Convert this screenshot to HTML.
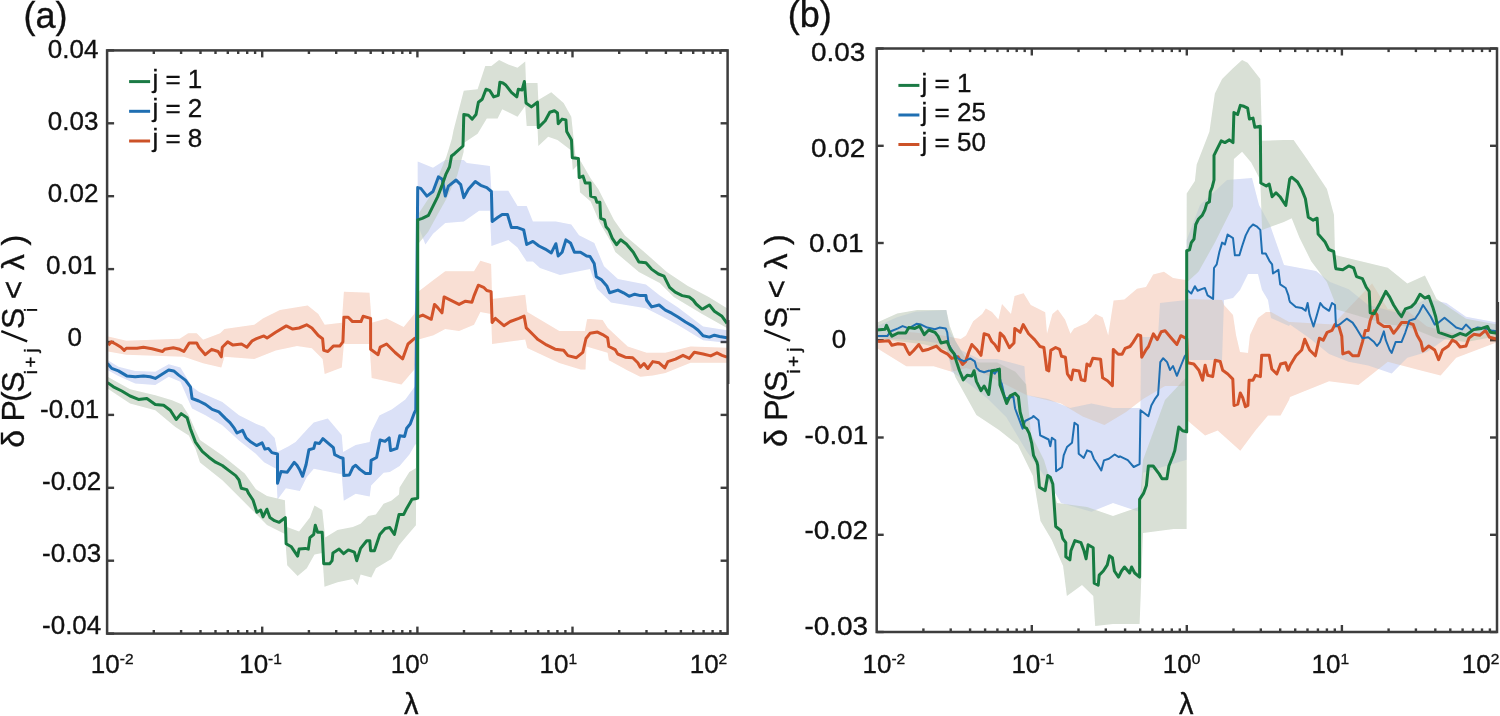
<!DOCTYPE html>
<html><head><meta charset="utf-8"><style>
html,body{margin:0;padding:0;background:#fff;width:1500px;height:716px;overflow:hidden}
svg{display:block}
text{font-family:"Liberation Sans", sans-serif;fill:#111;stroke:#111;stroke-width:0.35px}
</style></head><body>
<svg width="1500" height="716" viewBox="0 0 1500 716">
<clipPath id="ca"><rect x="107.1" y="50.4" width="620.5" height="583.2"/></clipPath><g clip-path="url(#ca)" style="isolation:isolate"><path d="M108.2,336.5 L126.3,340.8 L179.7,338.7 L188.2,333.3 L196.7,333.3 L203.1,339.7 L220.2,333.3 L224.5,329.1 L254.3,324.8 L262.9,318.4 L280.0,309.9 L307.7,305.6 L318.3,314.1 L324.7,324.8 L341.8,322.7 L343.9,291.7 L369.5,292.8 L371.7,322.7 L386.6,318.4 L403.7,326.9 L414.3,314.1 L418.5,291.6 L433.5,279.9 L445.2,271.3 L474.0,271.3 L480.4,260.7 L491.1,263.9 L492.1,299.1 L525.2,294.8 L527.3,311.9 L559.3,331.1 L584.9,331.1 L587.1,319.3 L590.0,318.9 L602.6,320.1 L607.6,327.7 L627.7,346.5 L646.6,352.8 L665.4,352.8 L690.6,346.5 L727.0,347.8 L727.0,362.8 L690.6,362.8 L665.4,372.9 L652.8,375.4 L640.3,376.7 L627.7,370.4 L608.9,360.3 L607.6,352.8 L586.5,346.5 L585.5,369.5 L580.7,369.5 L559.3,363.1 L527.3,348.1 L525.2,339.6 L492.1,343.9 L491.1,314.0 L480.4,311.9 L474.0,324.7 L459.1,331.1 L445.2,328.9 L433.5,335.3 L418.5,339.6 L414.3,369.6 L401.5,384.5 L382.3,380.3 L371.7,378.1 L369.5,344.0 L343.9,344.0 L341.8,367.5 L324.7,373.9 L322.6,358.9 L311.9,348.3 L297.0,346.1 L275.7,350.4 L254.3,358.9 L224.5,356.8 L221.3,367.5 L203.1,363.2 L183.9,356.8 L126.3,354.7 L108.2,351.5 Z" fill="#fceee8" stroke="none" style="mix-blend-mode:darken"/><path d="M107.5,360.0 L118.4,366.7 L135.2,370.9 L155.3,371.7 L168.7,364.2 L180.4,367.5 L192.1,386.8 L198.8,391.8 L222.3,401.9 L239.0,415.3 L255.8,423.7 L264.1,427.0 L274.7,437.9 L277.5,451.9 L288.7,446.3 L295.6,442.1 L308.2,428.2 L313.8,422.6 L327.8,418.4 L341.7,435.1 L343.1,451.9 L355.7,444.9 L369.7,442.1 L371.1,432.3 L379.4,415.6 L390.6,410.0 L391.7,409.4 L405.4,399.6 L415.2,385.9 L417.4,385.0 L417.7,161.5 L433.0,167.7 L445.3,160.0 L463.8,160.0 L466.8,163.1 L489.9,166.1 L491.4,190.7 L508.3,190.7 L517.5,206.1 L526.7,206.1 L532.9,221.4 L555.9,221.4 L571.3,224.5 L579.0,235.3 L594.3,243.0 L604.0,266.3 L617.9,278.9 L645.9,284.5 L659.8,295.6 L678.0,307.5 L703.1,326.4 L727.0,330.2 L727.0,342.7 L703.1,340.2 L678.0,325.1 L659.8,315.2 L645.9,308.2 L611.0,302.6 L597.0,288.7 L590.0,269.1 L560.0,275.0 L540.0,268.0 L532.9,261.4 L526.7,261.4 L517.5,247.6 L508.3,239.9 L491.4,246.0 L489.9,210.7 L479.1,210.7 L463.8,221.4 L445.3,223.0 L433.0,233.7 L425.4,244.5 L417.7,224.5 L417.4,444.0 L415.2,444.6 L409.4,454.4 L399.6,466.0 L389.8,472.0 L383.6,472.8 L371.1,485.4 L369.7,496.6 L355.7,493.8 L343.8,500.8 L341.7,474.2 L327.8,471.5 L313.8,468.7 L306.8,477.0 L299.8,491.0 L285.9,488.2 L277.5,499.4 L276.1,468.7 L264.1,462.2 L255.8,453.8 L239.0,440.4 L222.3,425.3 L205.5,415.3 L192.1,408.6 L180.4,381.8 L168.7,376.8 L155.3,385.1 L135.2,383.5 L118.4,375.9 L107.5,370.0 Z" fill="#eceffb" stroke="none" style="mix-blend-mode:darken"/><path d="M107.5,376.8 L130.1,389.3 L155.3,395.2 L172.0,400.2 L182.0,404.4 L188.8,415.3 L195.5,430.4 L200.0,440.0 L222.4,455.6 L244.7,473.5 L255.9,489.2 L267.0,495.9 L284.9,500.3 L286.0,525.0 L286.8,526.9 L299.1,531.5 L309.9,517.6 L314.5,505.4 L322.2,510.0 L325.2,537.6 L337.5,529.9 L352.9,526.9 L360.6,523.8 L368.2,516.1 L375.9,514.6 L383.6,503.8 L391.3,500.8 L399.0,494.6 L399.6,487.6 L409.4,472.0 L416.2,468.0 L417.4,468.0 L417.7,215.0 L428.2,199.0 L437.2,179.0 L446.3,157.0 L451.8,139.0 L453.6,130.0 L463.8,90.7 L477.6,89.2 L485.3,66.1 L491.4,66.1 L499.1,60.0 L508.3,64.6 L517.5,67.7 L525.2,61.5 L526.0,83.0 L537.5,83.0 L538.3,99.9 L551.3,92.3 L563.6,103.0 L571.3,116.8 L575.4,155.4 L580.0,160.0 L590.7,178.4 L598.4,189.2 L606.1,204.5 L614.0,220.0 L624.9,235.6 L643.1,251.0 L666.8,271.9 L687.8,285.9 L708.7,297.0 L727.0,308.2 L727.0,328.0 L701.7,313.8 L673.8,297.0 L659.8,283.1 L638.9,271.9 L615.3,252.0 L610.7,241.4 L599.9,223.0 L590.7,201.4 L580.0,192.2 L578.4,164.6 L572.8,170.0 L571.3,150.6 L557.5,139.9 L548.2,136.8 L538.3,146.0 L537.5,126.0 L526.7,126.0 L525.2,106.1 L517.5,116.8 L502.2,109.2 L497.6,118.4 L486.8,118.4 L477.6,133.7 L463.8,143.0 L463.6,152.0 L457.2,175.4 L446.3,199.0 L437.2,215.3 L428.2,231.7 L417.7,244.4 L415.9,525.3 L406.7,536.1 L399.0,545.3 L391.3,559.1 L375.9,568.3 L371.3,577.6 L360.6,574.5 L357.5,585.2 L352.9,579.1 L337.5,582.2 L324.5,586.8 L322.2,553.0 L314.5,554.5 L306.8,568.3 L297.6,576.0 L287.2,565.2 L284.9,533.9 L267.0,525.0 L255.9,513.8 L240.2,498.1 L222.4,480.2 L200.0,462.4 L195.5,448.8 L188.8,435.4 L175.4,427.0 L155.3,410.3 L130.1,403.6 L107.5,388.5 Z" fill="#ebefea" stroke="none" style="mix-blend-mode:darken"/></g>
<clipPath id="cb"><rect x="876.7" y="48.5" width="620.3" height="583.5"/></clipPath><g clip-path="url(#cb)" style="isolation:isolate"><path d="M876.7,335.4 L906.3,331.8 L942.6,335.4 L960.8,339.0 L966.0,335.6 L973.2,321.2 L982.2,314.0 L985.8,308.6 L992.0,312.0 L998.4,319.4 L1002.0,304.1 L1011.0,314.0 L1014.6,296.0 L1023.6,293.3 L1030.8,305.0 L1045.2,312.2 L1047.0,333.8 L1052.4,314.0 L1057.8,309.5 L1065.0,319.4 L1070.4,333.8 L1074.0,328.4 L1086.6,323.0 L1095.6,314.0 L1102.8,317.6 L1108.2,335.6 L1113.6,300.5 L1124.4,299.6 L1137.0,288.8 L1146.0,287.0 L1153.2,274.4 L1164.0,271.7 L1173.0,278.0 L1183.8,279.8 L1186.5,279.8 L1186.7,299.0 L1222.0,300.0 L1224.0,305.0 L1233.0,315.0 L1236.0,335.0 L1240.0,352.0 L1248.0,353.0 L1250.0,335.0 L1258.0,318.0 L1266.0,312.0 L1271.0,312.0 L1289.0,322.0 L1290.0,322.0 L1333.0,324.5 L1372.1,283.5 L1387.8,308.9 L1407.3,310.8 L1426.9,326.5 L1456.2,334.3 L1497.3,332.3 L1497.3,342.1 L1456.2,357.8 L1440.6,375.4 L1417.1,369.5 L1387.8,361.7 L1358.4,385.1 L1329.1,381.2 L1290.0,396.9 L1289.0,400.0 L1280.6,415.5 L1268.0,415.5 L1255.4,430.6 L1240.3,450.7 L1217.7,430.6 L1205.1,435.6 L1187.5,420.6 L1186.7,400.0 L1186.6,386.0 L1165.0,386.0 L1143.0,399.0 L1126.0,412.0 L1104.4,425.0 L1082.8,416.5 L1061.0,403.5 L1026.5,395.0 L1000.6,382.0 L983.0,373.0 L966.0,368.0 L951.7,371.7 L933.6,366.3 L906.3,366.3 L876.7,348.1 Z" fill="#fceee8" stroke="none" style="mix-blend-mode:darken"/><path d="M876.7,326.3 L897.2,317.2 L915.4,311.8 L946.3,310.0 L949.9,331.8 L960.8,349.9 L979.0,359.0 L997.1,359.0 L1024.4,366.3 L1026.5,395.0 L1048.0,399.0 L1070.0,408.0 L1091.4,403.5 L1113.0,408.0 L1139.0,408.0 L1140.5,408.0 L1141.0,337.0 L1158.0,337.0 L1160.0,303.0 L1186.6,300.0 L1186.7,240.0 L1200.0,205.0 L1227.0,180.0 L1252.0,178.0 L1259.0,205.0 L1270.0,225.0 L1284.0,265.0 L1316.0,271.0 L1330.0,282.0 L1348.7,289.3 L1368.2,305.0 L1397.5,312.8 L1426.9,299.1 L1446.4,303.0 L1466.0,316.7 L1497.3,322.6 L1497.3,332.3 L1446.4,338.2 L1426.9,351.9 L1407.3,357.8 L1391.7,373.4 L1368.2,365.6 L1348.7,361.7 L1329.1,353.9 L1309.6,338.2 L1290.0,324.5 L1289.0,326.0 L1271.0,318.0 L1268.0,300.0 L1262.0,290.0 L1258.0,274.0 L1248.0,274.0 L1240.0,290.0 L1233.0,298.0 L1224.0,300.0 L1222.0,360.0 L1186.7,360.0 L1186.6,459.8 L1143.0,472.8 L1140.5,511.7 L1139.0,511.7 L1113.0,503.0 L1091.4,511.7 L1061.0,503.0 L1048.0,481.0 L1026.5,451.0 L1006.2,417.1 L988.0,399.0 L969.9,384.4 L951.7,371.7 L946.3,344.5 L924.5,340.9 L897.2,339.0 L876.7,339.0 Z" fill="#eceffb" stroke="none" style="mix-blend-mode:darken"/><path d="M876.7,322.7 L897.2,313.6 L917.2,310.0 L946.3,310.0 L949.9,326.3 L955.4,340.9 L966.3,359.0 L979.0,362.6 L997.1,362.6 L1015.3,371.7 L1026.2,384.4 L1031.0,434.0 L1044.0,460.0 L1057.0,503.0 L1087.0,507.0 L1113.0,516.0 L1139.0,507.0 L1139.6,507.0 L1143.0,460.0 L1165.0,400.0 L1186.6,377.0 L1186.7,193.6 L1194.9,180.9 L1196.7,164.4 L1209.4,131.7 L1214.9,93.6 L1222.1,79.0 L1233.0,68.2 L1242.1,60.0 L1247.6,62.7 L1260.3,79.0 L1262.1,140.8 L1283.9,140.0 L1293.6,140.0 L1307.3,159.6 L1326.9,188.9 L1334.0,215.0 L1335.0,255.0 L1387.8,267.8 L1407.3,283.5 L1424.9,275.6 L1436.6,299.1 L1466.0,318.7 L1497.3,324.5 L1497.3,336.3 L1466.0,342.1 L1436.6,338.2 L1407.3,326.5 L1387.8,324.5 L1368.2,318.7 L1335.0,308.9 L1334.0,300.0 L1326.9,282.0 L1311.2,261.2 L1299.5,237.8 L1291.7,218.2 L1283.9,222.1 L1262.1,229.9 L1260.3,180.0 L1251.2,162.6 L1242.1,151.7 L1233.9,159.0 L1233.0,206.3 L1214.9,242.6 L1198.5,271.7 L1186.7,282.6 L1186.7,487.5 L1186.6,529.0 L1173.6,529.0 L1143.0,533.0 L1139.6,624.0 L1139.0,624.0 L1113.0,624.0 L1095.2,626.0 L1093.3,596.0 L1082.0,585.0 L1066.9,596.0 L1063.1,566.0 L1051.8,540.0 L1040.5,521.0 L1033.0,476.0 L1017.9,445.0 L999.0,430.0 L976.4,415.0 L957.5,381.0 L955.4,377.2 L946.3,350.0 L924.5,344.5 L897.2,340.9 L876.7,337.2 Z" fill="#ebefea" stroke="none" style="mix-blend-mode:darken"/></g>
<line x1="153.8" y1="633.6" x2="153.8" y2="630.0" stroke="#3d3d3d" stroke-width="2.4"/>
<line x1="153.8" y1="50.4" x2="153.8" y2="54.0" stroke="#3d3d3d" stroke-width="2.4"/>
<line x1="181.1" y1="633.6" x2="181.1" y2="630.0" stroke="#3d3d3d" stroke-width="2.4"/>
<line x1="181.1" y1="50.4" x2="181.1" y2="54.0" stroke="#3d3d3d" stroke-width="2.4"/>
<line x1="200.5" y1="633.6" x2="200.5" y2="630.0" stroke="#3d3d3d" stroke-width="2.4"/>
<line x1="200.5" y1="50.4" x2="200.5" y2="54.0" stroke="#3d3d3d" stroke-width="2.4"/>
<line x1="215.5" y1="633.6" x2="215.5" y2="630.0" stroke="#3d3d3d" stroke-width="2.4"/>
<line x1="215.5" y1="50.4" x2="215.5" y2="54.0" stroke="#3d3d3d" stroke-width="2.4"/>
<line x1="227.8" y1="633.6" x2="227.8" y2="630.0" stroke="#3d3d3d" stroke-width="2.4"/>
<line x1="227.8" y1="50.4" x2="227.8" y2="54.0" stroke="#3d3d3d" stroke-width="2.4"/>
<line x1="238.2" y1="633.6" x2="238.2" y2="630.0" stroke="#3d3d3d" stroke-width="2.4"/>
<line x1="238.2" y1="50.4" x2="238.2" y2="54.0" stroke="#3d3d3d" stroke-width="2.4"/>
<line x1="247.2" y1="633.6" x2="247.2" y2="630.0" stroke="#3d3d3d" stroke-width="2.4"/>
<line x1="247.2" y1="50.4" x2="247.2" y2="54.0" stroke="#3d3d3d" stroke-width="2.4"/>
<line x1="255.1" y1="633.6" x2="255.1" y2="630.0" stroke="#3d3d3d" stroke-width="2.4"/>
<line x1="255.1" y1="50.4" x2="255.1" y2="54.0" stroke="#3d3d3d" stroke-width="2.4"/>
<line x1="262.2" y1="633.6" x2="262.2" y2="626.6" stroke="#3d3d3d" stroke-width="2.4"/>
<line x1="262.2" y1="50.4" x2="262.2" y2="57.4" stroke="#3d3d3d" stroke-width="2.4"/>
<line x1="308.9" y1="633.6" x2="308.9" y2="630.0" stroke="#3d3d3d" stroke-width="2.4"/>
<line x1="308.9" y1="50.4" x2="308.9" y2="54.0" stroke="#3d3d3d" stroke-width="2.4"/>
<line x1="336.2" y1="633.6" x2="336.2" y2="630.0" stroke="#3d3d3d" stroke-width="2.4"/>
<line x1="336.2" y1="50.4" x2="336.2" y2="54.0" stroke="#3d3d3d" stroke-width="2.4"/>
<line x1="355.6" y1="633.6" x2="355.6" y2="630.0" stroke="#3d3d3d" stroke-width="2.4"/>
<line x1="355.6" y1="50.4" x2="355.6" y2="54.0" stroke="#3d3d3d" stroke-width="2.4"/>
<line x1="370.7" y1="633.6" x2="370.7" y2="630.0" stroke="#3d3d3d" stroke-width="2.4"/>
<line x1="370.7" y1="50.4" x2="370.7" y2="54.0" stroke="#3d3d3d" stroke-width="2.4"/>
<line x1="382.9" y1="633.6" x2="382.9" y2="630.0" stroke="#3d3d3d" stroke-width="2.4"/>
<line x1="382.9" y1="50.4" x2="382.9" y2="54.0" stroke="#3d3d3d" stroke-width="2.4"/>
<line x1="393.3" y1="633.6" x2="393.3" y2="630.0" stroke="#3d3d3d" stroke-width="2.4"/>
<line x1="393.3" y1="50.4" x2="393.3" y2="54.0" stroke="#3d3d3d" stroke-width="2.4"/>
<line x1="402.3" y1="633.6" x2="402.3" y2="630.0" stroke="#3d3d3d" stroke-width="2.4"/>
<line x1="402.3" y1="50.4" x2="402.3" y2="54.0" stroke="#3d3d3d" stroke-width="2.4"/>
<line x1="410.3" y1="633.6" x2="410.3" y2="630.0" stroke="#3d3d3d" stroke-width="2.4"/>
<line x1="410.3" y1="50.4" x2="410.3" y2="54.0" stroke="#3d3d3d" stroke-width="2.4"/>
<line x1="417.4" y1="633.6" x2="417.4" y2="626.6" stroke="#3d3d3d" stroke-width="2.4"/>
<line x1="417.4" y1="50.4" x2="417.4" y2="57.4" stroke="#3d3d3d" stroke-width="2.4"/>
<line x1="464.0" y1="633.6" x2="464.0" y2="630.0" stroke="#3d3d3d" stroke-width="2.4"/>
<line x1="464.0" y1="50.4" x2="464.0" y2="54.0" stroke="#3d3d3d" stroke-width="2.4"/>
<line x1="491.4" y1="633.6" x2="491.4" y2="630.0" stroke="#3d3d3d" stroke-width="2.4"/>
<line x1="491.4" y1="50.4" x2="491.4" y2="54.0" stroke="#3d3d3d" stroke-width="2.4"/>
<line x1="510.7" y1="633.6" x2="510.7" y2="630.0" stroke="#3d3d3d" stroke-width="2.4"/>
<line x1="510.7" y1="50.4" x2="510.7" y2="54.0" stroke="#3d3d3d" stroke-width="2.4"/>
<line x1="525.8" y1="633.6" x2="525.8" y2="630.0" stroke="#3d3d3d" stroke-width="2.4"/>
<line x1="525.8" y1="50.4" x2="525.8" y2="54.0" stroke="#3d3d3d" stroke-width="2.4"/>
<line x1="538.1" y1="633.6" x2="538.1" y2="630.0" stroke="#3d3d3d" stroke-width="2.4"/>
<line x1="538.1" y1="50.4" x2="538.1" y2="54.0" stroke="#3d3d3d" stroke-width="2.4"/>
<line x1="548.4" y1="633.6" x2="548.4" y2="630.0" stroke="#3d3d3d" stroke-width="2.4"/>
<line x1="548.4" y1="50.4" x2="548.4" y2="54.0" stroke="#3d3d3d" stroke-width="2.4"/>
<line x1="557.4" y1="633.6" x2="557.4" y2="630.0" stroke="#3d3d3d" stroke-width="2.4"/>
<line x1="557.4" y1="50.4" x2="557.4" y2="54.0" stroke="#3d3d3d" stroke-width="2.4"/>
<line x1="565.4" y1="633.6" x2="565.4" y2="630.0" stroke="#3d3d3d" stroke-width="2.4"/>
<line x1="565.4" y1="50.4" x2="565.4" y2="54.0" stroke="#3d3d3d" stroke-width="2.4"/>
<line x1="572.5" y1="633.6" x2="572.5" y2="626.6" stroke="#3d3d3d" stroke-width="2.4"/>
<line x1="572.5" y1="50.4" x2="572.5" y2="57.4" stroke="#3d3d3d" stroke-width="2.4"/>
<line x1="619.2" y1="633.6" x2="619.2" y2="630.0" stroke="#3d3d3d" stroke-width="2.4"/>
<line x1="619.2" y1="50.4" x2="619.2" y2="54.0" stroke="#3d3d3d" stroke-width="2.4"/>
<line x1="646.5" y1="633.6" x2="646.5" y2="630.0" stroke="#3d3d3d" stroke-width="2.4"/>
<line x1="646.5" y1="50.4" x2="646.5" y2="54.0" stroke="#3d3d3d" stroke-width="2.4"/>
<line x1="665.9" y1="633.6" x2="665.9" y2="630.0" stroke="#3d3d3d" stroke-width="2.4"/>
<line x1="665.9" y1="50.4" x2="665.9" y2="54.0" stroke="#3d3d3d" stroke-width="2.4"/>
<line x1="680.9" y1="633.6" x2="680.9" y2="630.0" stroke="#3d3d3d" stroke-width="2.4"/>
<line x1="680.9" y1="50.4" x2="680.9" y2="54.0" stroke="#3d3d3d" stroke-width="2.4"/>
<line x1="693.2" y1="633.6" x2="693.2" y2="630.0" stroke="#3d3d3d" stroke-width="2.4"/>
<line x1="693.2" y1="50.4" x2="693.2" y2="54.0" stroke="#3d3d3d" stroke-width="2.4"/>
<line x1="703.6" y1="633.6" x2="703.6" y2="630.0" stroke="#3d3d3d" stroke-width="2.4"/>
<line x1="703.6" y1="50.4" x2="703.6" y2="54.0" stroke="#3d3d3d" stroke-width="2.4"/>
<line x1="712.6" y1="633.6" x2="712.6" y2="630.0" stroke="#3d3d3d" stroke-width="2.4"/>
<line x1="712.6" y1="50.4" x2="712.6" y2="54.0" stroke="#3d3d3d" stroke-width="2.4"/>
<line x1="720.5" y1="633.6" x2="720.5" y2="630.0" stroke="#3d3d3d" stroke-width="2.4"/>
<line x1="720.5" y1="50.4" x2="720.5" y2="54.0" stroke="#3d3d3d" stroke-width="2.4"/>
<line x1="107.1" y1="50.4" x2="114.1" y2="50.4" stroke="#3d3d3d" stroke-width="2.4"/>
<line x1="727.6" y1="50.4" x2="720.6" y2="50.4" stroke="#3d3d3d" stroke-width="2.4"/>
<line x1="107.1" y1="123.3" x2="114.1" y2="123.3" stroke="#3d3d3d" stroke-width="2.4"/>
<line x1="727.6" y1="123.3" x2="720.6" y2="123.3" stroke="#3d3d3d" stroke-width="2.4"/>
<line x1="107.1" y1="196.2" x2="114.1" y2="196.2" stroke="#3d3d3d" stroke-width="2.4"/>
<line x1="727.6" y1="196.2" x2="720.6" y2="196.2" stroke="#3d3d3d" stroke-width="2.4"/>
<line x1="107.1" y1="269.1" x2="114.1" y2="269.1" stroke="#3d3d3d" stroke-width="2.4"/>
<line x1="727.6" y1="269.1" x2="720.6" y2="269.1" stroke="#3d3d3d" stroke-width="2.4"/>
<line x1="107.1" y1="342.0" x2="114.1" y2="342.0" stroke="#3d3d3d" stroke-width="2.4"/>
<line x1="727.6" y1="342.0" x2="720.6" y2="342.0" stroke="#3d3d3d" stroke-width="2.4"/>
<line x1="107.1" y1="414.9" x2="114.1" y2="414.9" stroke="#3d3d3d" stroke-width="2.4"/>
<line x1="727.6" y1="414.9" x2="720.6" y2="414.9" stroke="#3d3d3d" stroke-width="2.4"/>
<line x1="107.1" y1="487.8" x2="114.1" y2="487.8" stroke="#3d3d3d" stroke-width="2.4"/>
<line x1="727.6" y1="487.8" x2="720.6" y2="487.8" stroke="#3d3d3d" stroke-width="2.4"/>
<line x1="107.1" y1="560.7" x2="114.1" y2="560.7" stroke="#3d3d3d" stroke-width="2.4"/>
<line x1="727.6" y1="560.7" x2="720.6" y2="560.7" stroke="#3d3d3d" stroke-width="2.4"/>
<line x1="107.1" y1="633.6" x2="114.1" y2="633.6" stroke="#3d3d3d" stroke-width="2.4"/>
<line x1="727.6" y1="633.6" x2="720.6" y2="633.6" stroke="#3d3d3d" stroke-width="2.4"/>
<line x1="923.4" y1="632.0" x2="923.4" y2="628.4" stroke="#3d3d3d" stroke-width="2.4"/>
<line x1="923.4" y1="48.5" x2="923.4" y2="52.1" stroke="#3d3d3d" stroke-width="2.4"/>
<line x1="950.7" y1="632.0" x2="950.7" y2="628.4" stroke="#3d3d3d" stroke-width="2.4"/>
<line x1="950.7" y1="48.5" x2="950.7" y2="52.1" stroke="#3d3d3d" stroke-width="2.4"/>
<line x1="970.1" y1="632.0" x2="970.1" y2="628.4" stroke="#3d3d3d" stroke-width="2.4"/>
<line x1="970.1" y1="48.5" x2="970.1" y2="52.1" stroke="#3d3d3d" stroke-width="2.4"/>
<line x1="985.1" y1="632.0" x2="985.1" y2="628.4" stroke="#3d3d3d" stroke-width="2.4"/>
<line x1="985.1" y1="48.5" x2="985.1" y2="52.1" stroke="#3d3d3d" stroke-width="2.4"/>
<line x1="997.4" y1="632.0" x2="997.4" y2="628.4" stroke="#3d3d3d" stroke-width="2.4"/>
<line x1="997.4" y1="48.5" x2="997.4" y2="52.1" stroke="#3d3d3d" stroke-width="2.4"/>
<line x1="1007.8" y1="632.0" x2="1007.8" y2="628.4" stroke="#3d3d3d" stroke-width="2.4"/>
<line x1="1007.8" y1="48.5" x2="1007.8" y2="52.1" stroke="#3d3d3d" stroke-width="2.4"/>
<line x1="1016.7" y1="632.0" x2="1016.7" y2="628.4" stroke="#3d3d3d" stroke-width="2.4"/>
<line x1="1016.7" y1="48.5" x2="1016.7" y2="52.1" stroke="#3d3d3d" stroke-width="2.4"/>
<line x1="1024.7" y1="632.0" x2="1024.7" y2="628.4" stroke="#3d3d3d" stroke-width="2.4"/>
<line x1="1024.7" y1="48.5" x2="1024.7" y2="52.1" stroke="#3d3d3d" stroke-width="2.4"/>
<line x1="1031.8" y1="632.0" x2="1031.8" y2="625.0" stroke="#3d3d3d" stroke-width="2.4"/>
<line x1="1031.8" y1="48.5" x2="1031.8" y2="55.5" stroke="#3d3d3d" stroke-width="2.4"/>
<line x1="1078.5" y1="632.0" x2="1078.5" y2="628.4" stroke="#3d3d3d" stroke-width="2.4"/>
<line x1="1078.5" y1="48.5" x2="1078.5" y2="52.1" stroke="#3d3d3d" stroke-width="2.4"/>
<line x1="1105.8" y1="632.0" x2="1105.8" y2="628.4" stroke="#3d3d3d" stroke-width="2.4"/>
<line x1="1105.8" y1="48.5" x2="1105.8" y2="52.1" stroke="#3d3d3d" stroke-width="2.4"/>
<line x1="1125.1" y1="632.0" x2="1125.1" y2="628.4" stroke="#3d3d3d" stroke-width="2.4"/>
<line x1="1125.1" y1="48.5" x2="1125.1" y2="52.1" stroke="#3d3d3d" stroke-width="2.4"/>
<line x1="1140.2" y1="632.0" x2="1140.2" y2="628.4" stroke="#3d3d3d" stroke-width="2.4"/>
<line x1="1140.2" y1="48.5" x2="1140.2" y2="52.1" stroke="#3d3d3d" stroke-width="2.4"/>
<line x1="1152.4" y1="632.0" x2="1152.4" y2="628.4" stroke="#3d3d3d" stroke-width="2.4"/>
<line x1="1152.4" y1="48.5" x2="1152.4" y2="52.1" stroke="#3d3d3d" stroke-width="2.4"/>
<line x1="1162.8" y1="632.0" x2="1162.8" y2="628.4" stroke="#3d3d3d" stroke-width="2.4"/>
<line x1="1162.8" y1="48.5" x2="1162.8" y2="52.1" stroke="#3d3d3d" stroke-width="2.4"/>
<line x1="1171.8" y1="632.0" x2="1171.8" y2="628.4" stroke="#3d3d3d" stroke-width="2.4"/>
<line x1="1171.8" y1="48.5" x2="1171.8" y2="52.1" stroke="#3d3d3d" stroke-width="2.4"/>
<line x1="1179.8" y1="632.0" x2="1179.8" y2="628.4" stroke="#3d3d3d" stroke-width="2.4"/>
<line x1="1179.8" y1="48.5" x2="1179.8" y2="52.1" stroke="#3d3d3d" stroke-width="2.4"/>
<line x1="1186.8" y1="632.0" x2="1186.8" y2="625.0" stroke="#3d3d3d" stroke-width="2.4"/>
<line x1="1186.8" y1="48.5" x2="1186.8" y2="55.5" stroke="#3d3d3d" stroke-width="2.4"/>
<line x1="1233.5" y1="632.0" x2="1233.5" y2="628.4" stroke="#3d3d3d" stroke-width="2.4"/>
<line x1="1233.5" y1="48.5" x2="1233.5" y2="52.1" stroke="#3d3d3d" stroke-width="2.4"/>
<line x1="1260.8" y1="632.0" x2="1260.8" y2="628.4" stroke="#3d3d3d" stroke-width="2.4"/>
<line x1="1260.8" y1="48.5" x2="1260.8" y2="52.1" stroke="#3d3d3d" stroke-width="2.4"/>
<line x1="1280.2" y1="632.0" x2="1280.2" y2="628.4" stroke="#3d3d3d" stroke-width="2.4"/>
<line x1="1280.2" y1="48.5" x2="1280.2" y2="52.1" stroke="#3d3d3d" stroke-width="2.4"/>
<line x1="1295.2" y1="632.0" x2="1295.2" y2="628.4" stroke="#3d3d3d" stroke-width="2.4"/>
<line x1="1295.2" y1="48.5" x2="1295.2" y2="52.1" stroke="#3d3d3d" stroke-width="2.4"/>
<line x1="1307.5" y1="632.0" x2="1307.5" y2="628.4" stroke="#3d3d3d" stroke-width="2.4"/>
<line x1="1307.5" y1="48.5" x2="1307.5" y2="52.1" stroke="#3d3d3d" stroke-width="2.4"/>
<line x1="1317.9" y1="632.0" x2="1317.9" y2="628.4" stroke="#3d3d3d" stroke-width="2.4"/>
<line x1="1317.9" y1="48.5" x2="1317.9" y2="52.1" stroke="#3d3d3d" stroke-width="2.4"/>
<line x1="1326.9" y1="632.0" x2="1326.9" y2="628.4" stroke="#3d3d3d" stroke-width="2.4"/>
<line x1="1326.9" y1="48.5" x2="1326.9" y2="52.1" stroke="#3d3d3d" stroke-width="2.4"/>
<line x1="1334.8" y1="632.0" x2="1334.8" y2="628.4" stroke="#3d3d3d" stroke-width="2.4"/>
<line x1="1334.8" y1="48.5" x2="1334.8" y2="52.1" stroke="#3d3d3d" stroke-width="2.4"/>
<line x1="1341.9" y1="632.0" x2="1341.9" y2="625.0" stroke="#3d3d3d" stroke-width="2.4"/>
<line x1="1341.9" y1="48.5" x2="1341.9" y2="55.5" stroke="#3d3d3d" stroke-width="2.4"/>
<line x1="1388.6" y1="632.0" x2="1388.6" y2="628.4" stroke="#3d3d3d" stroke-width="2.4"/>
<line x1="1388.6" y1="48.5" x2="1388.6" y2="52.1" stroke="#3d3d3d" stroke-width="2.4"/>
<line x1="1415.9" y1="632.0" x2="1415.9" y2="628.4" stroke="#3d3d3d" stroke-width="2.4"/>
<line x1="1415.9" y1="48.5" x2="1415.9" y2="52.1" stroke="#3d3d3d" stroke-width="2.4"/>
<line x1="1435.3" y1="632.0" x2="1435.3" y2="628.4" stroke="#3d3d3d" stroke-width="2.4"/>
<line x1="1435.3" y1="48.5" x2="1435.3" y2="52.1" stroke="#3d3d3d" stroke-width="2.4"/>
<line x1="1450.3" y1="632.0" x2="1450.3" y2="628.4" stroke="#3d3d3d" stroke-width="2.4"/>
<line x1="1450.3" y1="48.5" x2="1450.3" y2="52.1" stroke="#3d3d3d" stroke-width="2.4"/>
<line x1="1462.6" y1="632.0" x2="1462.6" y2="628.4" stroke="#3d3d3d" stroke-width="2.4"/>
<line x1="1462.6" y1="48.5" x2="1462.6" y2="52.1" stroke="#3d3d3d" stroke-width="2.4"/>
<line x1="1473.0" y1="632.0" x2="1473.0" y2="628.4" stroke="#3d3d3d" stroke-width="2.4"/>
<line x1="1473.0" y1="48.5" x2="1473.0" y2="52.1" stroke="#3d3d3d" stroke-width="2.4"/>
<line x1="1482.0" y1="632.0" x2="1482.0" y2="628.4" stroke="#3d3d3d" stroke-width="2.4"/>
<line x1="1482.0" y1="48.5" x2="1482.0" y2="52.1" stroke="#3d3d3d" stroke-width="2.4"/>
<line x1="1489.9" y1="632.0" x2="1489.9" y2="628.4" stroke="#3d3d3d" stroke-width="2.4"/>
<line x1="1489.9" y1="48.5" x2="1489.9" y2="52.1" stroke="#3d3d3d" stroke-width="2.4"/>
<line x1="876.7" y1="48.5" x2="883.7" y2="48.5" stroke="#3d3d3d" stroke-width="2.4"/>
<line x1="1497.0" y1="48.5" x2="1490.0" y2="48.5" stroke="#3d3d3d" stroke-width="2.4"/>
<line x1="876.7" y1="145.8" x2="883.7" y2="145.8" stroke="#3d3d3d" stroke-width="2.4"/>
<line x1="1497.0" y1="145.8" x2="1490.0" y2="145.8" stroke="#3d3d3d" stroke-width="2.4"/>
<line x1="876.7" y1="243.0" x2="883.7" y2="243.0" stroke="#3d3d3d" stroke-width="2.4"/>
<line x1="1497.0" y1="243.0" x2="1490.0" y2="243.0" stroke="#3d3d3d" stroke-width="2.4"/>
<line x1="876.7" y1="340.2" x2="883.7" y2="340.2" stroke="#3d3d3d" stroke-width="2.4"/>
<line x1="1497.0" y1="340.2" x2="1490.0" y2="340.2" stroke="#3d3d3d" stroke-width="2.4"/>
<line x1="876.7" y1="437.5" x2="883.7" y2="437.5" stroke="#3d3d3d" stroke-width="2.4"/>
<line x1="1497.0" y1="437.5" x2="1490.0" y2="437.5" stroke="#3d3d3d" stroke-width="2.4"/>
<line x1="876.7" y1="534.8" x2="883.7" y2="534.8" stroke="#3d3d3d" stroke-width="2.4"/>
<line x1="1497.0" y1="534.8" x2="1490.0" y2="534.8" stroke="#3d3d3d" stroke-width="2.4"/>
<line x1="876.7" y1="632.0" x2="883.7" y2="632.0" stroke="#3d3d3d" stroke-width="2.4"/>
<line x1="1497.0" y1="632.0" x2="1490.0" y2="632.0" stroke="#3d3d3d" stroke-width="2.4"/>
<g clip-path="url(#ca)"><path d="M108.2,336.5 L126.3,340.8 L179.7,338.7 L188.2,333.3 L196.7,333.3 L203.1,339.7 L220.2,333.3 L224.5,329.1 L254.3,324.8 L262.9,318.4 L280.0,309.9 L307.7,305.6 L318.3,314.1 L324.7,324.8 L341.8,322.7 L343.9,291.7 L369.5,292.8 L371.7,322.7 L386.6,318.4 L403.7,326.9 L414.3,314.1 L418.5,291.6 L433.5,279.9 L445.2,271.3 L474.0,271.3 L480.4,260.7 L491.1,263.9 L492.1,299.1 L525.2,294.8 L527.3,311.9 L559.3,331.1 L584.9,331.1 L587.1,319.3 L590.0,318.9 L602.6,320.1 L607.6,327.7 L627.7,346.5 L646.6,352.8 L665.4,352.8 L690.6,346.5 L727.0,347.8 L727.0,362.8 L690.6,362.8 L665.4,372.9 L652.8,375.4 L640.3,376.7 L627.7,370.4 L608.9,360.3 L607.6,352.8 L586.5,346.5 L585.5,369.5 L580.7,369.5 L559.3,363.1 L527.3,348.1 L525.2,339.6 L492.1,343.9 L491.1,314.0 L480.4,311.9 L474.0,324.7 L459.1,331.1 L445.2,328.9 L433.5,335.3 L418.5,339.6 L414.3,369.6 L401.5,384.5 L382.3,380.3 L371.7,378.1 L369.5,344.0 L343.9,344.0 L341.8,367.5 L324.7,373.9 L322.6,358.9 L311.9,348.3 L297.0,346.1 L275.7,350.4 L254.3,358.9 L224.5,356.8 L221.3,367.5 L203.1,363.2 L183.9,356.8 L126.3,354.7 L108.2,351.5 Z" fill="#eb7846" fill-opacity="0.125" stroke="none"/>
<path d="M107.5,360.0 L118.4,366.7 L135.2,370.9 L155.3,371.7 L168.7,364.2 L180.4,367.5 L192.1,386.8 L198.8,391.8 L222.3,401.9 L239.0,415.3 L255.8,423.7 L264.1,427.0 L274.7,437.9 L277.5,451.9 L288.7,446.3 L295.6,442.1 L308.2,428.2 L313.8,422.6 L327.8,418.4 L341.7,435.1 L343.1,451.9 L355.7,444.9 L369.7,442.1 L371.1,432.3 L379.4,415.6 L390.6,410.0 L391.7,409.4 L405.4,399.6 L415.2,385.9 L417.4,385.0 L417.7,161.5 L433.0,167.7 L445.3,160.0 L463.8,160.0 L466.8,163.1 L489.9,166.1 L491.4,190.7 L508.3,190.7 L517.5,206.1 L526.7,206.1 L532.9,221.4 L555.9,221.4 L571.3,224.5 L579.0,235.3 L594.3,243.0 L604.0,266.3 L617.9,278.9 L645.9,284.5 L659.8,295.6 L678.0,307.5 L703.1,326.4 L727.0,330.2 L727.0,342.7 L703.1,340.2 L678.0,325.1 L659.8,315.2 L645.9,308.2 L611.0,302.6 L597.0,288.7 L590.0,269.1 L560.0,275.0 L540.0,268.0 L532.9,261.4 L526.7,261.4 L517.5,247.6 L508.3,239.9 L491.4,246.0 L489.9,210.7 L479.1,210.7 L463.8,221.4 L445.3,223.0 L433.0,233.7 L425.4,244.5 L417.7,224.5 L417.4,444.0 L415.2,444.6 L409.4,454.4 L399.6,466.0 L389.8,472.0 L383.6,472.8 L371.1,485.4 L369.7,496.6 L355.7,493.8 L343.8,500.8 L341.7,474.2 L327.8,471.5 L313.8,468.7 L306.8,477.0 L299.8,491.0 L285.9,488.2 L277.5,499.4 L276.1,468.7 L264.1,462.2 L255.8,453.8 L239.0,440.4 L222.3,425.3 L205.5,415.3 L192.1,408.6 L180.4,381.8 L168.7,376.8 L155.3,385.1 L135.2,383.5 L118.4,375.9 L107.5,370.0 Z" fill="#6482dc" fill-opacity="0.125" stroke="none"/>
<path d="M107.5,376.8 L130.1,389.3 L155.3,395.2 L172.0,400.2 L182.0,404.4 L188.8,415.3 L195.5,430.4 L200.0,440.0 L222.4,455.6 L244.7,473.5 L255.9,489.2 L267.0,495.9 L284.9,500.3 L286.0,525.0 L286.8,526.9 L299.1,531.5 L309.9,517.6 L314.5,505.4 L322.2,510.0 L325.2,537.6 L337.5,529.9 L352.9,526.9 L360.6,523.8 L368.2,516.1 L375.9,514.6 L383.6,503.8 L391.3,500.8 L399.0,494.6 L399.6,487.6 L409.4,472.0 L416.2,468.0 L417.4,468.0 L417.7,215.0 L428.2,199.0 L437.2,179.0 L446.3,157.0 L451.8,139.0 L453.6,130.0 L463.8,90.7 L477.6,89.2 L485.3,66.1 L491.4,66.1 L499.1,60.0 L508.3,64.6 L517.5,67.7 L525.2,61.5 L526.0,83.0 L537.5,83.0 L538.3,99.9 L551.3,92.3 L563.6,103.0 L571.3,116.8 L575.4,155.4 L580.0,160.0 L590.7,178.4 L598.4,189.2 L606.1,204.5 L614.0,220.0 L624.9,235.6 L643.1,251.0 L666.8,271.9 L687.8,285.9 L708.7,297.0 L727.0,308.2 L727.0,328.0 L701.7,313.8 L673.8,297.0 L659.8,283.1 L638.9,271.9 L615.3,252.0 L610.7,241.4 L599.9,223.0 L590.7,201.4 L580.0,192.2 L578.4,164.6 L572.8,170.0 L571.3,150.6 L557.5,139.9 L548.2,136.8 L538.3,146.0 L537.5,126.0 L526.7,126.0 L525.2,106.1 L517.5,116.8 L502.2,109.2 L497.6,118.4 L486.8,118.4 L477.6,133.7 L463.8,143.0 L463.6,152.0 L457.2,175.4 L446.3,199.0 L437.2,215.3 L428.2,231.7 L417.7,244.4 L415.9,525.3 L406.7,536.1 L399.0,545.3 L391.3,559.1 L375.9,568.3 L371.3,577.6 L360.6,574.5 L357.5,585.2 L352.9,579.1 L337.5,582.2 L324.5,586.8 L322.2,553.0 L314.5,554.5 L306.8,568.3 L297.6,576.0 L287.2,565.2 L284.9,533.9 L267.0,525.0 L255.9,513.8 L240.2,498.1 L222.4,480.2 L200.0,462.4 L195.5,448.8 L188.8,435.4 L175.4,427.0 L155.3,410.3 L130.1,403.6 L107.5,388.5 Z" fill="#375f28" fill-opacity="0.100" stroke="none"/>
<path d="M108.2,345.1 L111.4,341.9 L115.7,344.0 L121.0,347.2 L124.2,350.4 L126.3,348.3 L137.0,348.3 L143.4,347.2 L152.0,348.7 L162.6,351.5 L164.7,349.3 L173.3,347.8 L179.7,349.3 L183.9,351.5 L189.3,342.9 L196.7,342.9 L198.9,347.2 L205.3,354.7 L211.7,349.3 L218.1,351.5 L221.3,356.8 L222.3,347.2 L227.7,341.9 L233.0,345.1 L241.5,344.0 L246.9,347.2 L252.2,340.8 L256.5,338.7 L263.9,335.9 L267.1,338.0 L275.7,332.3 L286.3,325.9 L292.7,329.1 L299.1,328.0 L306.6,324.8 L311.9,328.0 L318.3,335.5 L322.6,338.7 L323.7,350.4 L327.9,351.5 L333.3,346.1 L339.7,346.1 L342.9,341.9 L343.9,317.3 L348.2,317.3 L352.5,321.6 L361.0,321.6 L363.1,316.3 L370.6,318.4 L370.6,349.3 L378.1,354.7 L380.2,347.2 L386.6,344.0 L395.1,352.5 L402.6,358.9 L408.0,344.0 L414.3,338.7 L416.5,337.6 L417.5,317.2 L422.8,315.1 L431.3,319.3 L434.5,304.4 L437.7,307.6 L442.0,312.9 L444.1,296.9 L450.5,300.1 L459.1,304.4 L465.5,301.2 L471.9,302.3 L474.0,295.9 L478.3,285.2 L483.6,287.3 L486.8,290.5 L491.1,291.6 L492.1,322.5 L495.3,318.3 L503.9,325.7 L510.3,321.5 L518.8,318.3 L524.1,316.1 L526.3,327.9 L533.7,335.3 L538.0,339.6 L546.5,344.9 L555.1,349.2 L563.6,350.3 L567.9,355.6 L576.4,357.7 L582.8,352.4 L586.0,338.5 L590.0,333.3 L597.5,332.1 L602.6,334.6 L607.6,337.7 L608.9,346.5 L615.1,349.6 L617.7,354.0 L625.2,357.2 L632.7,357.8 L637.8,362.8 L640.3,367.2 L644.0,363.5 L647.8,368.5 L652.8,361.6 L659.1,362.8 L664.8,367.9 L667.9,361.6 L675.5,359.1 L683.0,355.3 L689.3,358.4 L694.3,352.2 L703.1,354.0 L710.7,355.9 L717.0,352.8 L722.0,355.3 L727.0,357.2" fill="none" stroke="#d2532a" stroke-width="3" stroke-linejoin="round" stroke-linecap="butt"/>
<path d="M107.5,363.4 L111.7,368.4 L118.4,370.9 L126.8,375.9 L135.2,376.8 L143.5,375.9 L150.2,376.8 L155.3,378.4 L162.0,374.2 L168.7,370.0 L173.7,370.9 L178.7,375.1 L185.4,380.1 L190.4,386.8 L192.1,398.5 L198.8,401.0 L205.5,404.4 L212.2,409.4 L218.9,411.9 L225.6,418.6 L230.0,422.6 L234.2,428.2 L237.0,433.0 L242.6,430.3 L246.1,437.9 L251.0,442.1 L256.5,445.6 L262.1,442.8 L264.9,449.1 L268.4,448.4 L271.9,452.6 L277.5,454.0 L277.5,483.3 L281.0,471.5 L287.3,472.2 L294.2,462.4 L297.0,465.2 L299.8,470.1 L302.6,476.3 L306.1,464.5 L308.9,449.8 L313.8,448.4 L315.2,442.8 L319.4,443.5 L322.9,438.6 L327.8,442.8 L333.4,447.7 L334.7,454.7 L340.3,457.5 L343.1,458.2 L343.8,475.6 L349.4,474.9 L352.9,467.3 L355.7,465.2 L359.9,469.4 L365.5,473.5 L370.4,473.5 L371.1,460.3 L376.6,457.5 L380.1,440.0 L385.0,441.4 L389.2,437.9 L390.6,450.5 L396.9,448.4 L399.7,435.8 L404.6,436.5 L406.7,428.2 L410.2,424.0 L414.4,412.8 L415.8,410.0 L417.7,187.6 L420.8,188.4 L426.9,196.1 L433.0,191.5 L438.4,176.9 L442.3,179.2 L445.3,196.1 L448.4,186.1 L456.1,180.0 L460.7,184.6 L463.8,197.6 L468.4,189.2 L475.3,181.5 L480.7,185.3 L486.8,187.6 L491.4,191.5 L492.2,221.4 L497.6,217.6 L502.2,214.5 L507.5,214.5 L511.4,227.6 L517.5,227.6 L523.7,229.9 L526.7,244.5 L532.9,241.4 L539.0,246.0 L545.2,249.1 L551.3,252.9 L555.9,243.7 L558.2,256.0 L562.1,252.2 L565.9,239.9 L570.5,242.9 L574.4,252.2 L580.5,252.2 L586.6,256.0 L590.0,256.5 L594.2,263.5 L596.3,276.8 L601.2,279.6 L606.8,285.9 L609.6,292.8 L617.9,290.1 L623.5,292.8 L629.1,296.3 L634.7,294.2 L640.3,295.6 L645.9,295.6 L646.6,300.0 L651.6,306.9 L659.1,305.0 L665.4,310.1 L671.7,313.2 L678.0,317.0 L685.5,322.0 L693.1,326.4 L698.1,330.2 L703.1,335.8 L709.4,337.1 L714.4,335.2 L719.5,336.5 L727.0,337.7" fill="none" stroke="#1f6fb2" stroke-width="3" stroke-linejoin="round" stroke-linecap="butt"/>
<path d="M107.5,382.6 L113.4,386.8 L121.8,391.0 L130.1,396.0 L138.5,399.4 L146.9,398.5 L155.3,404.4 L163.6,405.2 L170.3,410.3 L176.2,419.5 L181.2,413.6 L187.1,417.8 L190.4,428.7 L195.5,442.1 L202.2,451.3 L208.9,457.2 L215.6,462.2 L222.3,465.5 L229.0,470.6 L235.7,475.6 L239.0,480.0 L241.2,488.2 L246.8,489.6 L248.4,493.1 L253.0,500.0 L256.9,512.3 L260.7,510.0 L263.0,516.9 L266.9,509.2 L269.9,517.6 L274.5,520.7 L279.2,522.3 L285.3,517.6 L286.1,543.8 L291.4,546.8 L297.6,556.1 L299.1,549.1 L305.3,548.4 L308.3,549.1 L309.9,537.6 L313.7,534.5 L315.3,525.3 L317.6,532.2 L322.2,532.2 L323.7,563.7 L329.8,563.7 L332.1,560.7 L332.9,553.0 L339.1,549.1 L343.7,553.7 L348.3,549.9 L354.4,552.2 L356.7,560.7 L360.6,548.4 L366.7,540.7 L369.8,540.7 L370.6,550.7 L374.4,550.7 L379.8,534.5 L385.1,528.4 L389.8,527.6 L394.4,534.5 L399.0,514.6 L403.6,514.6 L406.7,508.4 L412.0,499.2 L416.6,498.4 L417.7,498.0 L417.7,219.9 L422.3,218.4 L428.4,215.3 L433.0,206.1 L437.6,196.9 L442.3,184.6 L446.1,173.8 L449.5,167.0 L451.5,156.0 L454.5,153.7 L463.0,146.0 L463.8,114.5 L468.4,115.3 L472.2,119.1 L476.0,114.5 L478.4,102.2 L482.2,99.2 L486.0,89.2 L489.9,90.7 L493.7,96.9 L498.3,95.3 L499.9,82.3 L502.9,83.0 L506.0,85.3 L511.4,92.3 L516.8,96.9 L518.3,89.2 L522.1,90.0 L524.4,81.5 L526.0,103.0 L531.4,106.9 L537.5,102.2 L538.3,127.6 L545.2,120.7 L549.8,112.2 L554.4,110.7 L557.5,113.0 L558.2,123.7 L562.1,119.1 L565.9,119.9 L566.7,131.4 L571.5,140.0 L572.3,157.7 L578.4,158.4 L579.2,177.6 L583.0,176.1 L585.3,183.0 L590.0,183.0 L590.7,196.1 L595.3,197.6 L596.9,202.2 L599.9,202.2 L600.7,218.3 L604.5,219.9 L606.1,226.8 L608.9,230.0 L612.3,238.4 L616.5,244.7 L620.7,239.8 L626.3,244.0 L633.3,252.3 L638.9,262.1 L645.9,262.8 L651.5,269.1 L658.4,274.0 L664.0,276.1 L669.6,287.3 L675.2,292.2 L682.2,295.6 L689.2,297.0 L693.1,300.0 L696.1,304.0 L701.7,308.9 L703.1,308.8 L709.4,305.0 L714.4,311.3 L722.0,316.3 L727.0,323.3" fill="none" stroke="#177c42" stroke-width="3" stroke-linejoin="round" stroke-linecap="butt"/></g>
<g clip-path="url(#cb)"><path d="M876.7,335.4 L906.3,331.8 L942.6,335.4 L960.8,339.0 L966.0,335.6 L973.2,321.2 L982.2,314.0 L985.8,308.6 L992.0,312.0 L998.4,319.4 L1002.0,304.1 L1011.0,314.0 L1014.6,296.0 L1023.6,293.3 L1030.8,305.0 L1045.2,312.2 L1047.0,333.8 L1052.4,314.0 L1057.8,309.5 L1065.0,319.4 L1070.4,333.8 L1074.0,328.4 L1086.6,323.0 L1095.6,314.0 L1102.8,317.6 L1108.2,335.6 L1113.6,300.5 L1124.4,299.6 L1137.0,288.8 L1146.0,287.0 L1153.2,274.4 L1164.0,271.7 L1173.0,278.0 L1183.8,279.8 L1186.5,279.8 L1186.7,299.0 L1222.0,300.0 L1224.0,305.0 L1233.0,315.0 L1236.0,335.0 L1240.0,352.0 L1248.0,353.0 L1250.0,335.0 L1258.0,318.0 L1266.0,312.0 L1271.0,312.0 L1289.0,322.0 L1290.0,322.0 L1333.0,324.5 L1372.1,283.5 L1387.8,308.9 L1407.3,310.8 L1426.9,326.5 L1456.2,334.3 L1497.3,332.3 L1497.3,342.1 L1456.2,357.8 L1440.6,375.4 L1417.1,369.5 L1387.8,361.7 L1358.4,385.1 L1329.1,381.2 L1290.0,396.9 L1289.0,400.0 L1280.6,415.5 L1268.0,415.5 L1255.4,430.6 L1240.3,450.7 L1217.7,430.6 L1205.1,435.6 L1187.5,420.6 L1186.7,400.0 L1186.6,386.0 L1165.0,386.0 L1143.0,399.0 L1126.0,412.0 L1104.4,425.0 L1082.8,416.5 L1061.0,403.5 L1026.5,395.0 L1000.6,382.0 L983.0,373.0 L966.0,368.0 L951.7,371.7 L933.6,366.3 L906.3,366.3 L876.7,348.1 Z" fill="#eb7846" fill-opacity="0.125" stroke="none"/>
<path d="M876.7,326.3 L897.2,317.2 L915.4,311.8 L946.3,310.0 L949.9,331.8 L960.8,349.9 L979.0,359.0 L997.1,359.0 L1024.4,366.3 L1026.5,395.0 L1048.0,399.0 L1070.0,408.0 L1091.4,403.5 L1113.0,408.0 L1139.0,408.0 L1140.5,408.0 L1141.0,337.0 L1158.0,337.0 L1160.0,303.0 L1186.6,300.0 L1186.7,240.0 L1200.0,205.0 L1227.0,180.0 L1252.0,178.0 L1259.0,205.0 L1270.0,225.0 L1284.0,265.0 L1316.0,271.0 L1330.0,282.0 L1348.7,289.3 L1368.2,305.0 L1397.5,312.8 L1426.9,299.1 L1446.4,303.0 L1466.0,316.7 L1497.3,322.6 L1497.3,332.3 L1446.4,338.2 L1426.9,351.9 L1407.3,357.8 L1391.7,373.4 L1368.2,365.6 L1348.7,361.7 L1329.1,353.9 L1309.6,338.2 L1290.0,324.5 L1289.0,326.0 L1271.0,318.0 L1268.0,300.0 L1262.0,290.0 L1258.0,274.0 L1248.0,274.0 L1240.0,290.0 L1233.0,298.0 L1224.0,300.0 L1222.0,360.0 L1186.7,360.0 L1186.6,459.8 L1143.0,472.8 L1140.5,511.7 L1139.0,511.7 L1113.0,503.0 L1091.4,511.7 L1061.0,503.0 L1048.0,481.0 L1026.5,451.0 L1006.2,417.1 L988.0,399.0 L969.9,384.4 L951.7,371.7 L946.3,344.5 L924.5,340.9 L897.2,339.0 L876.7,339.0 Z" fill="#6482dc" fill-opacity="0.125" stroke="none"/>
<path d="M876.7,322.7 L897.2,313.6 L917.2,310.0 L946.3,310.0 L949.9,326.3 L955.4,340.9 L966.3,359.0 L979.0,362.6 L997.1,362.6 L1015.3,371.7 L1026.2,384.4 L1031.0,434.0 L1044.0,460.0 L1057.0,503.0 L1087.0,507.0 L1113.0,516.0 L1139.0,507.0 L1139.6,507.0 L1143.0,460.0 L1165.0,400.0 L1186.6,377.0 L1186.7,193.6 L1194.9,180.9 L1196.7,164.4 L1209.4,131.7 L1214.9,93.6 L1222.1,79.0 L1233.0,68.2 L1242.1,60.0 L1247.6,62.7 L1260.3,79.0 L1262.1,140.8 L1283.9,140.0 L1293.6,140.0 L1307.3,159.6 L1326.9,188.9 L1334.0,215.0 L1335.0,255.0 L1387.8,267.8 L1407.3,283.5 L1424.9,275.6 L1436.6,299.1 L1466.0,318.7 L1497.3,324.5 L1497.3,336.3 L1466.0,342.1 L1436.6,338.2 L1407.3,326.5 L1387.8,324.5 L1368.2,318.7 L1335.0,308.9 L1334.0,300.0 L1326.9,282.0 L1311.2,261.2 L1299.5,237.8 L1291.7,218.2 L1283.9,222.1 L1262.1,229.9 L1260.3,180.0 L1251.2,162.6 L1242.1,151.7 L1233.9,159.0 L1233.0,206.3 L1214.9,242.6 L1198.5,271.7 L1186.7,282.6 L1186.7,487.5 L1186.6,529.0 L1173.6,529.0 L1143.0,533.0 L1139.6,624.0 L1139.0,624.0 L1113.0,624.0 L1095.2,626.0 L1093.3,596.0 L1082.0,585.0 L1066.9,596.0 L1063.1,566.0 L1051.8,540.0 L1040.5,521.0 L1033.0,476.0 L1017.9,445.0 L999.0,430.0 L976.4,415.0 L957.5,381.0 L955.4,377.2 L946.3,350.0 L924.5,344.5 L897.2,340.9 L876.7,337.2 Z" fill="#375f28" fill-opacity="0.100" stroke="none"/>
<path d="M878.1,341.5 L888.8,340.7 L891.9,345.3 L898.0,343.8 L904.2,344.5 L907.3,350.7 L909.6,354.5 L913.4,350.7 L918.8,344.5 L922.6,350.7 L928.8,349.2 L936.4,346.1 L941.0,350.7 L947.2,353.8 L951.8,358.4 L958.0,356.8 L962.6,364.5 L965.6,361.4 L968.7,352.2 L971.8,344.5 L976.4,349.2 L981.0,355.3 L984.1,333.8 L988.7,335.3 L991.7,341.5 L994.8,344.5 L998.7,350.7 L1000.2,333.0 L1004.0,336.9 L1009.4,347.6 L1014.0,343.0 L1014.8,328.4 L1020.2,332.3 L1023.2,324.6 L1028.6,333.8 L1034.8,339.9 L1040.0,346.5 L1043.9,347.5 L1046.8,370.0 L1048.8,370.9 L1050.8,350.4 L1055.6,347.5 L1059.6,349.4 L1061.5,356.3 L1065.4,357.2 L1067.4,373.9 L1071.3,379.7 L1073.2,370.0 L1079.1,370.9 L1081.1,379.7 L1085.0,380.7 L1086.9,364.1 L1089.9,366.0 L1092.8,358.2 L1100.6,359.2 L1102.6,377.8 L1107.5,380.7 L1112.4,385.6 L1113.3,349.4 L1118.2,354.3 L1122.1,354.3 L1125.1,348.4 L1130.0,346.5 L1132.9,342.6 L1137.8,334.8 L1140.7,335.7 L1141.7,357.2 L1145.6,350.4 L1148.5,346.5 L1153.4,333.8 L1157.3,339.6 L1161.2,331.8 L1165.1,330.8 L1171.0,337.7 L1176.9,344.5 L1180.8,335.7 L1186.7,338.7 L1187.5,362.7 L1193.8,364.0 L1198.9,370.3 L1202.6,380.3 L1205.1,365.2 L1207.7,375.3 L1212.7,376.6 L1215.2,360.2 L1220.2,361.5 L1222.7,370.3 L1227.8,374.0 L1232.8,379.1 L1234.0,405.5 L1237.8,404.2 L1240.3,392.9 L1242.8,397.9 L1245.4,406.7 L1247.9,405.5 L1249.1,380.3 L1252.9,380.3 L1255.4,375.3 L1260.4,376.6 L1261.7,355.2 L1269.2,355.2 L1271.8,369.0 L1276.8,374.0 L1280.6,364.0 L1285.6,362.7 L1288.1,370.3 L1290.0,365.6 L1295.9,355.8 L1301.7,350.0 L1304.7,339.2 L1309.6,350.0 L1315.4,355.8 L1319.3,338.2 L1323.2,340.2 L1327.2,332.3 L1332.0,330.4 L1335.0,324.5 L1338.9,326.5 L1341.8,336.3 L1342.8,353.9 L1348.7,351.9 L1352.6,355.8 L1358.4,355.8 L1362.4,342.1 L1365.3,330.4 L1368.2,330.4 L1370.2,320.6 L1374.1,310.8 L1377.0,314.8 L1378.0,322.6 L1383.9,326.5 L1389.7,326.5 L1393.6,333.3 L1397.5,328.4 L1401.5,322.6 L1407.3,322.6 L1413.2,324.5 L1417.1,335.3 L1421.0,342.1 L1423.0,350.9 L1428.8,346.0 L1434.7,350.0 L1438.6,359.7 L1442.5,350.0 L1448.4,346.0 L1452.3,340.2 L1456.2,342.1 L1460.1,347.0 L1466.0,346.0 L1468.9,338.2 L1473.8,334.3 L1479.7,335.3 L1485.5,330.4 L1489.5,337.2 L1497.3,339.2" fill="none" stroke="#d2532a" stroke-width="3" stroke-linejoin="round" stroke-linecap="butt"/>
<path d="M876.7,336.1 L887.3,336.1 L890.4,331.5 L898.0,328.4 L902.6,326.1 L908.8,328.4 L916.5,323.8 L921.1,324.6 L927.2,327.6 L934.9,329.2 L939.5,327.6 L945.7,328.4 L947.2,332.3 L948.7,344.5 L953.3,352.2 L958.0,358.4 L964.1,361.4 L970.2,358.4 L974.8,361.4 L976.4,367.6 L979.5,370.7 L984.1,372.2 L988.7,370.7 L991.7,370.7 L994.8,373.7 L997.9,369.1 L1001.0,382.9 L1001.7,383.4 L1005.0,398.4 L1013.4,396.8 L1015.1,408.5 L1020.1,421.9 L1022.6,428.6 L1025.1,421.0 L1031.8,417.7 L1033.5,416.0 L1038.5,420.2 L1040.2,435.3 L1043.6,437.0 L1048.6,439.5 L1050.3,446.2 L1051.9,437.8 L1055.3,440.3 L1056.1,471.3 L1062.0,467.1 L1063.7,455.4 L1067.0,447.0 L1072.0,442.8 L1074.5,422.7 L1077.9,425.2 L1078.7,453.7 L1083.8,457.9 L1087.1,450.4 L1091.3,452.0 L1093.8,458.7 L1097.2,463.8 L1101.3,470.5 L1103.9,460.4 L1108.9,458.7 L1114.7,454.5 L1118.9,457.1 L1120.0,456.3 L1127.8,460.2 L1133.7,467.0 L1139.6,464.1 L1140.5,410.3 L1148.4,416.2 L1151.3,405.4 L1155.2,398.6 L1158.1,394.7 L1160.3,362.1 L1163.2,358.2 L1167.1,362.1 L1170.0,370.0 L1173.0,366.0 L1176.9,375.8 L1180.8,366.0 L1184.7,356.3 L1186.3,354.3 L1186.7,289.8 L1191.3,293.5 L1194.9,286.2 L1197.6,290.7 L1202.2,288.9 L1204.9,288.0 L1207.6,295.3 L1213.1,298.9 L1214.0,268.0 L1216.7,264.4 L1219.4,251.7 L1222.1,242.6 L1224.9,244.4 L1227.6,234.5 L1233.0,238.1 L1234.9,255.3 L1239.4,255.3 L1242.1,246.3 L1245.7,235.4 L1249.4,228.1 L1253.0,224.5 L1256.6,226.3 L1260.3,229.9 L1262.1,253.5 L1265.7,253.5 L1269.4,260.8 L1272.1,264.4 L1273.0,273.5 L1278.4,269.9 L1280.2,284.4 L1285.7,288.0 L1288.4,295.3 L1289.3,300.0 L1290.0,302.0 L1295.9,306.9 L1301.7,307.9 L1305.6,310.8 L1307.6,303.0 L1309.6,314.8 L1313.5,326.5 L1316.4,316.7 L1320.3,303.0 L1323.2,306.9 L1329.1,310.8 L1332.0,303.0 L1335.0,305.0 L1336.0,326.5 L1340.8,323.6 L1346.7,318.7 L1352.6,322.6 L1356.5,328.4 L1362.4,338.2 L1368.2,337.2 L1374.1,342.1 L1377.0,346.0 L1380.0,342.1 L1383.9,331.4 L1385.8,340.2 L1389.7,350.0 L1391.7,352.9 L1395.6,342.1 L1401.5,342.1 L1405.4,332.3 L1409.3,320.6 L1415.1,318.7 L1419.1,312.8 L1423.0,305.0 L1426.9,310.8 L1430.8,316.7 L1434.7,324.5 L1438.6,322.6 L1444.5,317.7 L1450.3,322.6 L1456.2,327.5 L1462.1,329.4 L1466.0,324.5 L1471.9,330.4 L1477.7,327.5 L1485.5,328.4 L1491.4,330.4 L1497.3,331.4" fill="none" stroke="#1f6fb2" stroke-width="2" stroke-linejoin="round" stroke-linecap="butt"/>
<path d="M876.7,330.0 L885.0,329.2 L886.5,325.3 L889.6,332.3 L891.9,336.1 L898.0,333.0 L905.7,333.0 L908.8,327.6 L914.9,328.4 L919.5,326.1 L924.2,334.6 L928.8,330.0 L934.9,332.3 L938.0,336.1 L941.0,343.0 L947.2,341.5 L950.3,349.2 L954.1,353.8 L956.4,361.4 L959.5,370.7 L963.3,379.9 L967.2,375.3 L971.8,376.0 L974.1,370.7 L976.4,381.4 L981.0,390.6 L984.1,386.0 L988.7,394.5 L991.7,370.7 L996.4,369.9 L999.4,369.1 L1000.0,385.0 L1003.4,394.2 L1006.7,403.5 L1010.1,395.9 L1015.1,393.4 L1018.4,396.8 L1020.1,411.8 L1024.3,426.9 L1026.8,428.6 L1029.3,433.6 L1031.8,443.7 L1033.5,455.4 L1036.9,462.1 L1037.7,465.4 L1039.4,487.2 L1045.2,490.6 L1047.7,475.5 L1050.3,477.2 L1052.8,483.9 L1055.7,526.5 L1060.8,530.5 L1062.8,538.6 L1065.8,542.7 L1065.8,556.8 L1069.9,559.9 L1070.9,550.8 L1074.9,540.6 L1081.0,542.7 L1084.0,550.8 L1086.1,558.9 L1088.1,544.7 L1093.2,547.7 L1094.2,583.2 L1098.2,585.2 L1099.2,575.1 L1103.3,571.0 L1107.3,564.9 L1109.4,555.8 L1112.4,557.8 L1114.4,571.0 L1118.5,577.1 L1121.5,571.0 L1124.5,567.0 L1129.6,573.0 L1131.6,567.0 L1134.7,573.0 L1139.6,577.1 L1139.6,499.3 L1143.5,493.4 L1146.4,485.6 L1148.4,466.0 L1153.2,466.0 L1159.1,473.9 L1162.0,478.7 L1166.9,478.7 L1168.9,466.0 L1172.8,456.3 L1174.8,450.4 L1178.7,426.9 L1182.6,430.8 L1186.7,431.8 L1186.7,300.0 L1186.7,250.8 L1189.5,249.9 L1191.3,242.6 L1194.0,239.0 L1195.8,224.5 L1198.5,219.0 L1202.2,215.4 L1204.9,209.9 L1206.7,203.6 L1209.4,201.8 L1210.3,191.8 L1212.2,187.2 L1214.0,180.0 L1214.0,155.3 L1216.7,149.9 L1221.2,140.8 L1224.9,142.6 L1229.4,139.9 L1233.0,142.6 L1233.9,112.6 L1237.6,114.5 L1240.3,105.4 L1243.9,106.3 L1247.6,108.1 L1249.4,119.0 L1253.0,118.1 L1254.8,127.2 L1260.3,126.3 L1260.8,183.0 L1266.3,186.0 L1269.2,184.0 L1272.1,196.7 L1276.0,192.8 L1280.0,196.7 L1285.8,205.5 L1289.7,179.1 L1291.7,177.2 L1297.5,182.0 L1301.5,188.9 L1305.4,198.7 L1308.3,217.2 L1313.2,220.2 L1317.1,218.2 L1318.1,233.9 L1324.9,241.7 L1328.8,249.5 L1333.7,251.5 L1335.5,267.0 L1336.0,268.8 L1342.8,269.8 L1348.7,265.9 L1353.6,267.8 L1356.5,276.6 L1362.4,278.6 L1366.3,287.4 L1369.2,291.3 L1370.2,312.8 L1374.1,313.8 L1380.0,303.0 L1385.8,291.3 L1389.7,297.2 L1393.6,305.0 L1398.5,312.8 L1401.5,316.7 L1405.4,308.9 L1411.2,306.9 L1415.1,303.0 L1420.0,294.2 L1424.9,298.1 L1428.8,296.2 L1432.7,306.9 L1435.7,316.7 L1438.6,332.3 L1444.5,334.3 L1452.3,337.2 L1460.1,333.3 L1466.0,335.3 L1473.8,329.4 L1481.6,328.4 L1487.5,326.5 L1490.4,332.3 L1497.3,333.3" fill="none" stroke="#177c42" stroke-width="3" stroke-linejoin="round" stroke-linecap="butt"/></g>
<rect x="107.1" y="50.4" width="620.5" height="583.2" fill="none" stroke="#3d3d3d" stroke-width="2.5"/>
<rect x="876.7" y="48.5" width="620.3" height="583.5" fill="none" stroke="#3d3d3d" stroke-width="2.5"/>
<text x="90.8" y="672.7" font-size="26">10<tspan font-size="15.5" dy="-8.8">-2</tspan></text>
<text x="239.2" y="672.7" font-size="26">10<tspan font-size="15.5" dy="-8.8">-1</tspan></text>
<text x="390.8" y="672.7" font-size="26">10<tspan font-size="15.5" dy="-8.8">0</tspan></text>
<text x="539.6" y="672.7" font-size="26">10<tspan font-size="15.5" dy="-8.8">1</tspan></text>
<text x="689.7" y="672.7" font-size="26">10<tspan font-size="15.5" dy="-8.8">2</tspan></text>
<text x="862.5" y="672.7" font-size="26">10<tspan font-size="15.5" dy="-8.8">-2</tspan></text>
<text x="1011.4" y="672.7" font-size="26">10<tspan font-size="15.5" dy="-8.8">-1</tspan></text>
<text x="1162.8" y="672.7" font-size="26">10<tspan font-size="15.5" dy="-8.8">0</tspan></text>
<text x="1311.6" y="672.7" font-size="26">10<tspan font-size="15.5" dy="-8.8">1</tspan></text>
<text x="1461.8" y="672.7" font-size="26">10<tspan font-size="15.5" dy="-8.8">2</tspan></text>
<text x="98.4" y="58.2" font-size="26" text-anchor="end">0.04</text>
<text x="98.4" y="130.2" font-size="26" text-anchor="end">0.03</text>
<text x="98.4" y="202.2" font-size="26" text-anchor="end">0.02</text>
<text x="96.6" y="274.2" font-size="26" text-anchor="end">0.01</text>
<text x="67.4" y="345.6" font-size="26">0</text>
<text x="99.3" y="418.2" font-size="26" text-anchor="end">-0.01</text>
<text x="101.3" y="490.2" font-size="26" text-anchor="end">-0.02</text>
<text x="101.3" y="562.2" font-size="26" text-anchor="end">-0.03</text>
<text x="101.3" y="634.2" font-size="26" text-anchor="end">-0.04</text>
<text x="865.3" y="60.9" font-size="26" text-anchor="end" transform="translate(865.3,0) scale(1.075,1) translate(-865.3,0)">0.03</text>
<text x="865.3" y="156.6" font-size="26" text-anchor="end" transform="translate(865.3,0) scale(1.075,1) translate(-865.3,0)">0.02</text>
<text x="863.5" y="252.3" font-size="26" text-anchor="end" transform="translate(863.5,0) scale(1.075,1) translate(-863.5,0)">0.01</text>
<text x="831.7" y="348.0" font-size="26">0</text>
<text x="868.3" y="443.7" font-size="26" text-anchor="end" transform="translate(868.3,0) scale(1.075,1) translate(-868.3,0)">-0.01</text>
<text x="868.1" y="539.4" font-size="26" text-anchor="end" transform="translate(868.1,0) scale(1.075,1) translate(-868.1,0)">-0.02</text>
<text x="868.1" y="635.1" font-size="26" text-anchor="end" transform="translate(868.1,0) scale(1.075,1) translate(-868.1,0)">-0.03</text>
<line x1="728.6" y1="320.0" x2="728.6" y2="384.0" stroke="#3d3d3d" stroke-width="1.6"/>
<line x1="1498.3" y1="302.0" x2="1498.3" y2="380.0" stroke="#3d3d3d" stroke-width="1.6"/>
<text x="23.5" y="28.3" font-size="36">(a)</text>
<text x="787.8" y="26.5" font-size="36">(b)</text>
<text x="404.0" y="714.4" font-size="29">λ</text>
<text x="1179.0" y="714.4" font-size="29">λ</text>
<g transform="translate(24.4,450.0) rotate(-90)"><text x="2.3" y="0" font-size="32">δ</text><text x="28.6" y="0" font-size="32">P</text><text x="48" y="0" font-size="32">(</text><text x="57.2" y="0" font-size="32">S</text><text x="121" y="0" font-size="32">S</text><text x="150.8" y="0" font-size="32">&lt;</text><text x="179.8" y="0" font-size="32">λ</text><text x="204.4" y="0" font-size="32">)</text><text x="75.7" y="12.6" font-size="19">i</text><text x="82.3" y="12.6" font-size="19">+</text><text x="97.5" y="12.6" font-size="19">j</text><text x="138" y="12.6" font-size="19">i</text></g>
<line x1="1.3" y1="331.1" x2="27.2" y2="341.4" stroke="#111" stroke-width="2.3"/>
<g transform="translate(787.3,449.3) rotate(-90)"><text x="2.3" y="0" font-size="32">δ</text><text x="28.6" y="0" font-size="32">P</text><text x="48" y="0" font-size="32">(</text><text x="57.2" y="0" font-size="32">S</text><text x="121" y="0" font-size="32">S</text><text x="150.8" y="0" font-size="32">&lt;</text><text x="179.8" y="0" font-size="32">λ</text><text x="204.4" y="0" font-size="32">)</text><text x="75.7" y="12.6" font-size="19">i</text><text x="82.3" y="12.6" font-size="19">+</text><text x="97.5" y="12.6" font-size="19">j</text><text x="138" y="12.6" font-size="19">i</text></g>
<line x1="764.2" y1="330.4" x2="790.1" y2="340.7" stroke="#111" stroke-width="2.3"/>
<line x1="129.1" y1="81.6" x2="150.1" y2="81.6" stroke="#1b7a45" stroke-width="3"/>
<text x="152.4" y="87.7" font-size="26">j = 1</text>
<line x1="129.1" y1="111.3" x2="150.1" y2="111.3" stroke="#1f6fb2" stroke-width="3"/>
<text x="152.4" y="117.4" font-size="26">j = 2</text>
<line x1="129.1" y1="141.0" x2="150.1" y2="141.0" stroke="#cc5228" stroke-width="3"/>
<text x="152.4" y="147.1" font-size="26">j = 8</text>
<line x1="898.4" y1="85.4" x2="919.4" y2="85.4" stroke="#1b7a45" stroke-width="3"/>
<text x="921.6" y="91.5" font-size="26">j = 1</text>
<line x1="898.4" y1="115.0" x2="919.4" y2="115.0" stroke="#1f6fb2" stroke-width="3"/>
<text x="921.6" y="121.0" font-size="26">j = 25</text>
<line x1="898.4" y1="144.5" x2="919.4" y2="144.5" stroke="#cc5228" stroke-width="3"/>
<text x="921.6" y="150.6" font-size="26">j = 50</text>
</svg></body></html>
